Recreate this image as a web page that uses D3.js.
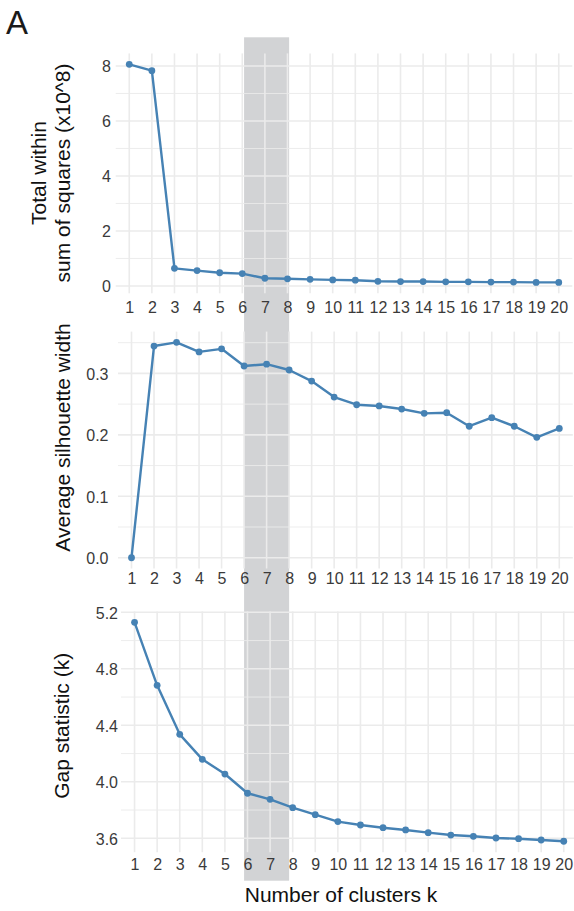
<!DOCTYPE html>
<html>
<head>
<meta charset="utf-8">
<script src="https://cdn.jsdelivr.net/npm/d3@7"></script>
<style>
  body { margin: 0; background: #fff; }
  svg { display: block; font-family: "Liberation Sans", Arial, Helvetica, sans-serif; }
</style>
</head>
<body>
<svg id="chart" width="574" height="911"></svg>
<script>
// number of clusters k
const ks = [1, 2, 3, 4, 5, 6, 7, 8, 9, 10, 11, 12, 13, 14, 15, 16, 17, 18, 19, 20];

// total within sum of squares (x10^8)
const wss = [8.06, 7.83, 0.64, 0.56, 0.48, 0.45, 0.28, 0.26, 0.24, 0.22,
             0.21, 0.17, 0.16, 0.16, 0.15, 0.15, 0.14, 0.14, 0.13, 0.13];

// average silhouette width
const silhouette = [0.000, 0.3445, 0.3505, 0.335, 0.340, 0.312, 0.315, 0.3055, 0.2875, 0.2615,
                    0.249, 0.247, 0.242, 0.235, 0.236, 0.214, 0.228, 0.214, 0.196, 0.2105];

// gap statistic
const gap = [5.129, 4.683, 4.336, 4.159, 4.055, 3.919, 3.876, 3.817, 3.767, 3.718,
             3.694, 3.675, 3.659, 3.640, 3.623, 3.614, 3.602, 3.597, 3.588, 3.579];

const wssTicks = [0, 2, 4, 6, 8];
const silTicks = [0, 0.1, 0.2, 0.3];
const gapTicks = [3.6, 4.0, 4.4, 4.8, 5.2];

// highlighted range of k
const highlightK = [6, 8];

const LINE = "#4682b4";
const GRID = "#ebebeb";
const BAND = "#d2d3d5";

const svg = d3.select("#chart");

// panel boxes (pixels) - the figure is three stacked plots
const panels = [
  { values: wss, ticks: wssTicks, fmt: d3.format("d"),
    left: 115.7, right: 572.3, top: 53.4, bottom: 293.3,
    labelRight: 111, xLabelTop: 301.3,
    title: ["Total within", "sum of squares (x10^8)"], titleX: [45.5, 69.5], titleY: 173 },
  { values: silhouette, ticks: silTicks, fmt: d3.format(".1f"),
    left: 118, right: 572.8, top: 331.6, bottom: 568.5,
    labelRight: 108.5, xLabelTop: 572.9,
    title: ["Average silhouette width"], titleX: [70], titleY: 437.5 },
  { values: gap, ticks: gapTicks, fmt: d3.format(".1f"),
    left: 121, right: 577.3, top: 611.4, bottom: 852.2,
    labelRight: 118, xLabelTop: 858.9,
    title: ["Gap statistic (k)"], titleX: [68.5], titleY: 725.8 }
];

panels.forEach(p => {
  p.x = d3.scalePoint().domain(ks).range([p.left, p.right]).padding(0.6);
  const [lo, hi] = d3.extent(p.values);
  const pad = (hi - lo) * 0.05;
  p.y = d3.scaleLinear().domain([lo - pad, hi + pad]).range([p.bottom, p.top]);
  // minor breaks halfway between the major ones
  const step = p.ticks[1] - p.ticks[0];
  p.minor = p.ticks.map(t => t - step / 2).concat([p.ticks[p.ticks.length - 1] + step / 2])
    .filter(v => v >= p.y.domain()[0] && v <= p.y.domain()[1]);
});

// grey band behind everything, spanning the whole column of plots
const bx = panels[1].x;
svg.append("rect")
  .attr("x", bx(highlightK[0]))
  .attr("width", bx(highlightK[1]) - bx(highlightK[0]))
  .attr("y", 37.3)
  .attr("height", 880.7 - 37.3)
  .attr("fill", BAND);

panels.forEach(p => {
  const g = svg.append("g");
  const x1 = p.left, x2 = Math.min(p.right, 574);

  // grid
  g.append("g").selectAll("line").data(p.minor).join("line")
    .attr("x1", x1).attr("x2", x2)
    .attr("y1", d => p.y(d)).attr("y2", d => p.y(d))
    .attr("stroke", GRID).attr("stroke-width", 0.9);
  g.append("g").selectAll("line").data(p.ticks).join("line")
    .attr("x1", x1).attr("x2", x2)
    .attr("y1", d => p.y(d)).attr("y2", d => p.y(d))
    .attr("stroke", GRID).attr("stroke-width", 1.6);
  g.append("g").selectAll("line").data(ks).join("line")
    .attr("x1", d => p.x(d)).attr("x2", d => p.x(d))
    .attr("y1", p.top).attr("y2", p.bottom)
    .attr("stroke", GRID).attr("stroke-width", 1.6);

  // axes (labels only)
  const yAxis = g.append("g")
    .attr("transform", `translate(${p.labelRight},0)`)
    .call(d3.axisLeft(p.y).tickValues(p.ticks).tickFormat(p.fmt).tickSize(0).tickPadding(0));
  const xAxis = g.append("g")
    .attr("transform", `translate(0,${p.xLabelTop})`)
    .call(d3.axisBottom(p.x).tickSize(0).tickPadding(0));
  [yAxis, xAxis].forEach(a => {
    a.select(".domain").remove();
    a.attr("font-family", null).attr("font-size", null);
    a.selectAll("text")
      .attr("font-size", 16)
      .attr("fill", "#3a3a3a");
  });
  yAxis.selectAll("text").attr("dy", "0.36em");

  // line + points
  const pts = ks.map((k, i) => [k, p.values[i]]);
  g.append("path")
    .datum(pts)
    .attr("fill", "none")
    .attr("stroke", LINE)
    .attr("stroke-width", 2.4)
    .attr("stroke-linejoin", "round")
    .attr("d", d3.line().x(d => p.x(d[0])).y(d => p.y(d[1])));
  g.append("g").selectAll("circle").data(pts).join("circle")
    .attr("cx", d => p.x(d[0]))
    .attr("cy", d => p.y(d[1]))
    .attr("r", 3.4)
    .attr("fill", LINE);

  // y title
  p.title.forEach((t, i) => {
    svg.append("text")
      .attr("transform", `translate(${p.titleX[i]},${p.titleY}) rotate(-90)`)
      .attr("text-anchor", "middle")
      .attr("font-size", 21)
      .attr("fill", "#111")
      .text(t);
  });
});

// x title
svg.append("text")
  .attr("x", 341)
  .attr("y", 901.7)
  .attr("text-anchor", "middle")
  .attr("font-size", 21)
  .attr("fill", "#111")
  .text("Number of clusters k");

// panel tag
svg.append("text")
  .attr("x", 6)
  .attr("y", 33.5)
  .attr("font-size", 33)
  .attr("fill", "#1a1a1a")
  .text("A");
</script>
</body>
</html>
